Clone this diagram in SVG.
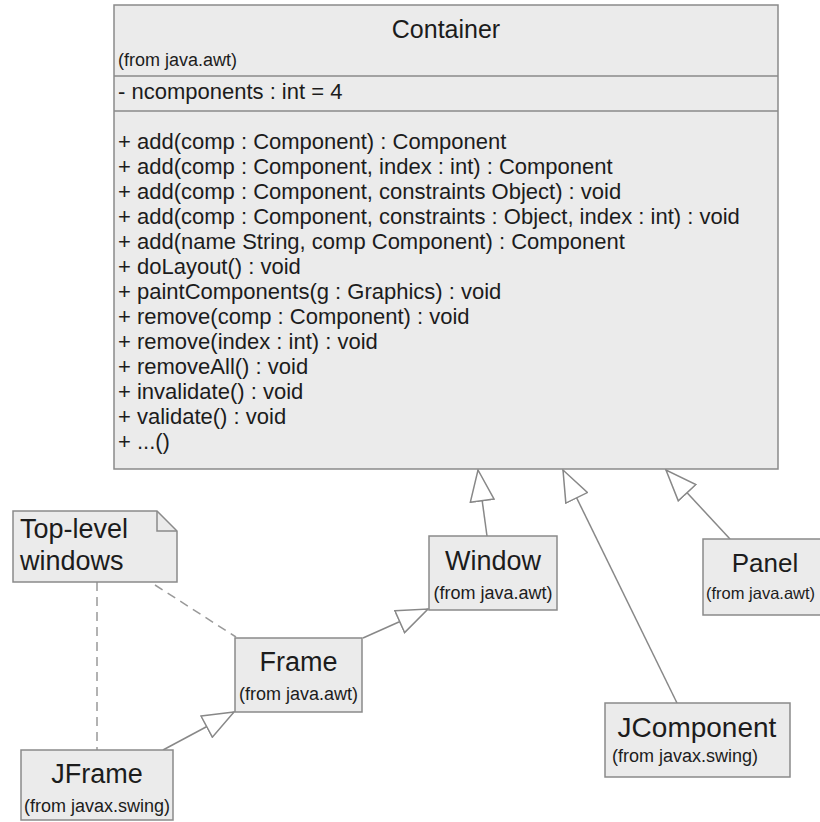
<svg xmlns="http://www.w3.org/2000/svg" width="820" height="822" viewBox="0 0 820 822">
<style>
.box{fill:#ebebeb;stroke:#8a8a8a;stroke-width:1.5}
.sep{stroke:#8a8a8a;stroke-width:1.5}
text{font-family:"Liberation Sans",Arial,sans-serif;fill:#1c1c1c}
.t{font-size:22px}
.s{font-size:18px}
.n{font-size:27px}
.c{text-anchor:middle}
.gen{stroke:#888;stroke-width:1.5;fill:none;marker-end:url(#tri)}
.dash{stroke:#999;stroke-width:1.5;fill:none;stroke-dasharray:9,6}
</style>
<defs>
<marker id="tri" viewBox="-1 -1 33 26" refX="31" refY="12" markerWidth="33" markerHeight="26" markerUnits="userSpaceOnUse" orient="auto">
<path d="M0,0 L31,12 L0,24 Z" fill="#fff" stroke="#888" stroke-width="1.5"/>
</marker>
</defs>
<rect width="820" height="822" fill="#fff"/>
<g id="Container">
<rect class="box" x="114" y="5" width="664" height="464"/>
<line class="sep" x1="114" y1="76" x2="778" y2="76"/>
<line class="sep" x1="114" y1="111" x2="778" y2="111"/>
<text class="c" x="446" y="38" font-size="25">Container</text>
<text class="s" x="118" y="66">(from java.awt)</text>
<text class="t" x="118" y="99">- ncomponents : int = 4</text>
<text class="t" x="118" y="149">+ add(comp : Component) : Component</text>
<text class="t" x="118" y="174">+ add(comp : Component, index : int) : Component</text>
<text class="t" x="118" y="199">+ add(comp : Component, constraints Object) : void</text>
<text class="t" x="118" y="224">+ add(comp : Component, constraints : Object, index : int) : void</text>
<text class="t" x="118" y="249">+ add(name String, comp Component) : Component</text>
<text class="t" x="118" y="274">+ doLayout() : void</text>
<text class="t" x="118" y="299">+ paintComponents(g : Graphics) : void</text>
<text class="t" x="118" y="324">+ remove(comp : Component) : void</text>
<text class="t" x="118" y="349">+ remove(index : int) : void</text>
<text class="t" x="118" y="374">+ removeAll() : void</text>
<text class="t" x="118" y="399">+ invalidate() : void</text>
<text class="t" x="118" y="424">+ validate() : void</text>
<text class="t" x="118" y="449">+ ...()</text>
</g>
<g id="connectors">
<line class="gen" x1="487" y1="536" x2="478" y2="470"/>
<line class="gen" x1="677" y1="703" x2="563" y2="470"/>
<line class="gen" x1="730" y1="539" x2="666" y2="470"/>
<line class="gen" x1="363" y1="638" x2="428" y2="609"/>
<line class="gen" x1="163" y1="750" x2="234" y2="712"/>
<line class="dash" x1="97" y1="582" x2="97" y2="750"/>
<line class="dash" x1="155" y1="585" x2="236" y2="637"/>
</g>
<g id="Window">
<rect class="box" x="429" y="536" width="128" height="74"/>
<text class="n c" x="493" y="570">Window</text>
<text class="s c" x="493" y="599">(from java.awt)</text>
</g>
<g id="Frame">
<rect class="box" x="235" y="638" width="127" height="74"/>
<text class="n c" x="298.5" y="671">Frame</text>
<text class="s c" x="298.5" y="700">(from java.awt)</text>
</g>
<g id="JFrame">
<rect class="box" x="21" y="750" width="152" height="70"/>
<text class="n c" x="97" y="783">JFrame</text>
<text class="s c" x="97" y="812">(from javax.swing)</text>
</g>
<g id="JComponent">
<rect class="box" x="605" y="703" width="185" height="74"/>
<text class="c" x="697" y="737" font-size="28">JComponent</text>
<text class="s" x="612" y="762">(from javax.swing)</text>
</g>
<g id="Panel">
<rect class="box" x="703" y="539" width="130" height="76"/>
<text class="c" x="765" y="572" font-size="26">Panel</text>
<text x="706" y="599" font-size="16.5">(from java.awt)</text>
</g>
<g id="Note">
<path class="box" d="M13,511 H157 L177,531 V582 H13 Z"/>
<path d="M157,511 V531 H177" fill="none" stroke="#8a8a8a" stroke-width="1.5"/>
<text x="20" y="538" font-size="27">Top-level</text>
<text x="20" y="570" font-size="27">windows</text>
</g>
</svg>
